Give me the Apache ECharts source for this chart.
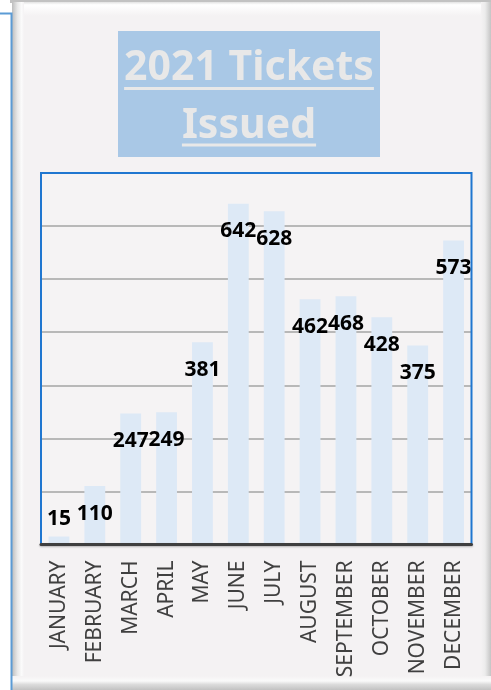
<!DOCTYPE html>
<html>
<head>
<meta charset="utf-8">
<script src="https://cdn.jsdelivr.net/npm/echarts@6/dist/echarts.min.js"></script>
<style>
html,body{margin:0;padding:0;background:#ffffff;}
#c{width:491px;height:690px;}
</style>
</head>
<body>
<div id="c"></div>
<script>
var months = ['JANUARY','FEBRUARY','MARCH','APRIL','MAY','JUNE','JULY','AUGUST','SEPTEMBER','OCTOBER','NOVEMBER','DECEMBER'];
var tickets = [15,110,247,249,381,642,628,462,468,428,375,573];
var titleLines = ['2021 Tickets','Issued'];

var titleFont = 'bold 41px "Noto Sans"';
var mc = document.createElement('canvas').getContext('2d');
mc.font = titleFont;
function tw(t){ return mc.measureText(t).width; }

var cx = 249;
var G = {left: 41, right: 19.5, top: 173, bottom: 145.5};
var gx1 = G.left, gy1 = G.top, gx2 = 491 - G.right, gy2 = 690 - G.bottom;

var seriesData = tickets.map(function(v, i){
  if (i === 0) return {value: v, label: {position: 'top', offset: [0, -2]}};
  return v;
});

var chart = echarts.init(document.getElementById('c'), null, {renderer: 'canvas'});
chart.setOption({
  animation: false,
  backgroundColor: 'transparent',
  graphic: [
    {type:'rect', z:-10, shape:{x:10,y:0,width:481,height:3}, style:{fill:'#c2c2c2'}},
    {type:'rect', z:-10, shape:{x:12,y:2,width:479,height:688}, style:{fill:'#f4f2f3'}},
    {type:'rect', z:-9, shape:{x:12,y:2,width:479,height:14}, style:{fill:{type:'linear',x:0,y:0,x2:0,y2:1,colorStops:[{offset:0,color:'#e2e2e2'},{offset:0.2,color:'#ffffff'},{offset:1,color:'#f4f2f3'}]}}},
    {type:'rect', z:-9, shape:{x:12,y:2,width:12,height:688}, style:{fill:{type:'linear',x:0,y:0,x2:1,y2:0,colorStops:[{offset:0,color:'#bdbdbd'},{offset:0.45,color:'#e8e8e8'},{offset:0.8,color:'#fbfbfb'},{offset:1,color:'#f4f2f3'}]}}},
    {type:'rect', z:-9, shape:{x:481,y:2,width:10,height:688}, style:{fill:{type:'linear',x:0,y:0,x2:1,y2:0,colorStops:[{offset:0,color:'#f4f2f3'},{offset:0.4,color:'#ececec'},{offset:1,color:'#c4c4c4'}]}}},
    {type:'rect', z:-9, shape:{x:12,y:676,width:479,height:14}, style:{fill:{type:'linear',x:0,y:0,x2:0,y2:1,colorStops:[{offset:0,color:'#f4f2f3'},{offset:0.35,color:'#fafafa'},{offset:0.6,color:'#dcdcdc'},{offset:1,color:'#c2c2c2'}]}}},
    {type:'polyline', z:-8, shape:{points:[[0,13.5],[11.5,13.5],[11.5,690]]}, style:{stroke:'#5b9bd5', lineWidth:2, fill:null}},
    {type:'polyline', z:3, shape:{points:[[gx1,gy2],[gx1,gy1],[gx2,gy1],[gx2,gy2]]}, style:{stroke:'#1f76d0', lineWidth:2, fill:null}},
    {type:'rect', z:5, shape:{x:118,y:31,width:262,height:126}, style:{fill:'#a9c8e6'}},
    {type:'text', z:6, style:{text:titleLines[0], x:cx, y:68, align:'center', verticalAlign:'middle', font:titleFont, fill:'#e8e8e8'}},
    {type:'text', z:6, style:{text:titleLines[1], x:cx, y:126, align:'center', verticalAlign:'middle', font:titleFont, fill:'#e8e8e8'}},
    {type:'rect', z:6, shape:{x:cx - tw(titleLines[0])/2, y:87, width:tw(titleLines[0]), height:3}, style:{fill:'#e8e8e8'}},
    {type:'rect', z:6, shape:{x:cx - tw(titleLines[1])/2, y:143.5, width:tw(titleLines[1]), height:3}, style:{fill:'#e8e8e8'}}
  ],
  grid: {
    left: G.left, right: G.right, top: G.top, bottom: G.bottom,
    show: true, borderWidth: 0, backgroundColor: '#f5f3f4'
  },
  xAxis: {
    type: 'category',
    data: months,
    z: 4,
    axisTick: {show: false},
    axisLine: {show: true, lineStyle: {color: '#3f3f3f', width: 3, shadowColor: 'rgba(0,0,0,0.25)', shadowBlur: 2, shadowOffsetY: 1}},
    axisLabel: {rotate: 90, interval: 0, margin: 16, fontSize: 21, fontFamily: 'Noto Sans', color: '#404040'}
  },
  yAxis: {
    type: 'value',
    min: 0, max: 700, interval: 100,
    axisLabel: {show: false},
    axisLine: {show: false},
    axisTick: {show: false},
    splitLine: {show: true, lineStyle: {color: '#b8b8b8', width: 2}}
  },
  series: [{
    type: 'bar',
    data: seriesData,
    barWidth: '58%',
    itemStyle: {color: '#dde9f6'},
    label: {
      show: true, position: 'insideTop', offset: [0, 12],
      fontSize: 21, lineHeight: 21, fontWeight: 'bold', fontFamily: 'Noto Sans', color: '#000000'
    }
  }]
});
</script>
</body>
</html>
